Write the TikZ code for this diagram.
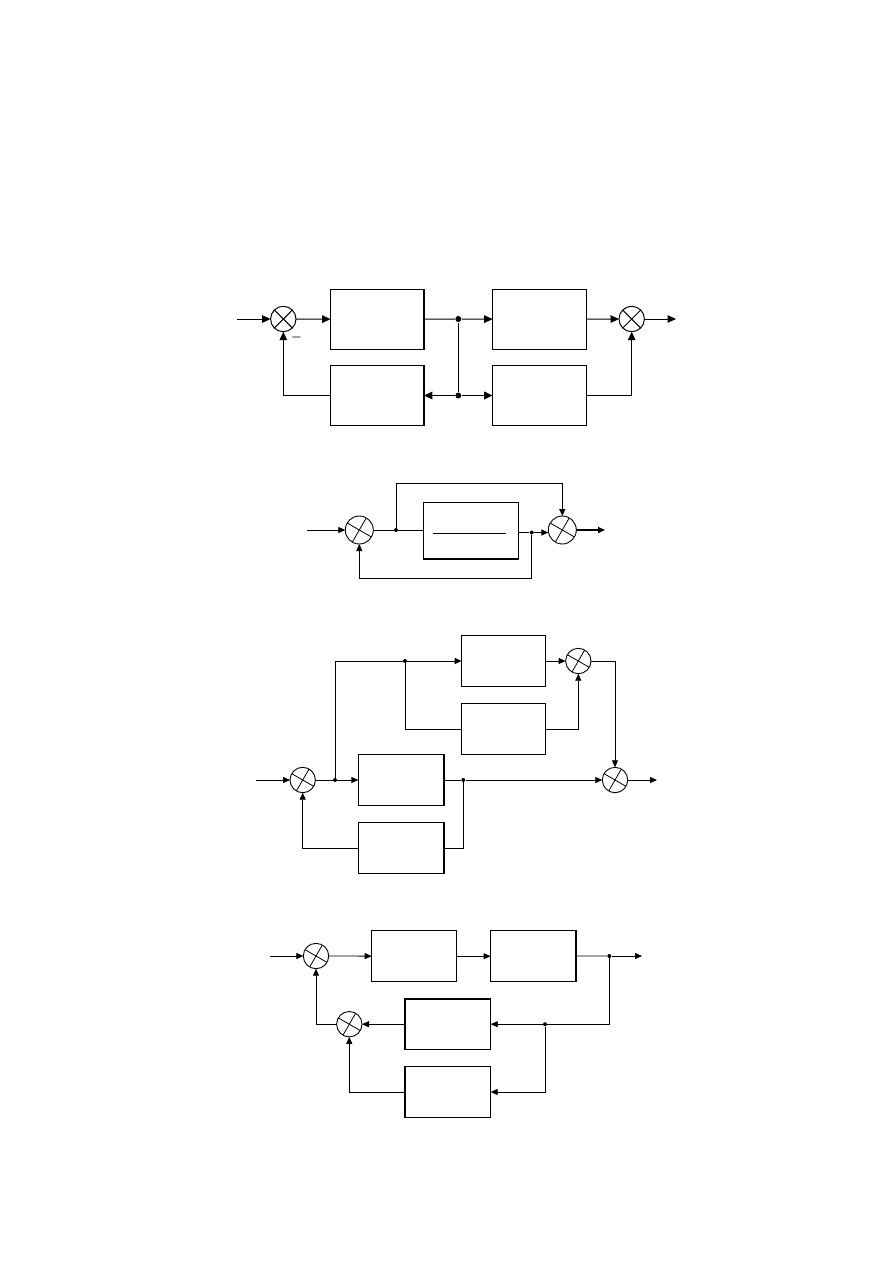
\documentclass[tikz,border=0pt]{standalone}
\usetikzlibrary{arrows.meta,calc}
\tikzset{
  thin line/.style={line width=0.8pt},
  arr/.style={-{Triangle[length=7pt,width=6pt]}},
  bigarr/.style={-{Triangle[length=8.5pt,width=7.5pt]}},
  blk/.style={draw, line width=1.4pt, inner sep=0pt, outer sep=0pt},
  sumA/.style={circle, draw, line width=1pt, minimum size=25.4pt, inner sep=0pt, outer sep=0pt,
    path picture={\draw[line width=1pt] (path picture bounding box.center) ++(45:20pt) -- ++(225:40pt);
                  \draw[line width=1pt] (path picture bounding box.center) ++(135:20pt) -- ++(315:40pt);}},
  sumB/.style={circle, draw, line width=0.9pt, minimum size=#1, inner sep=0pt, outer sep=0pt,
    path picture={\draw[line width=0.8pt] (path picture bounding box.center) ++(60:20pt) -- ++(240:40pt);
                  \draw[line width=0.8pt] (path picture bounding box.center) ++(150:20pt) -- ++(330:40pt);}},
  sumB/.default=25.4pt,
  dotA/.style={circle, fill, inner sep=0pt, minimum size=6pt},
  dotB/.style={circle, fill, inner sep=0pt, minimum size=4pt},
}
\begin{document}
\begin{tikzpicture}[x=1pt,y=-1pt, thin line]
\useasboundingbox (0,0) rectangle (893,1263);

% ---------------- Diagram 1 ----------------
\begin{scope}[line width=1pt]
\coordinate (in1) at (237,319);
\node[sumA] (s1) at (283.3,319) {};
\node[blk, minimum width=93.3pt, minimum height=60pt] (A) at (377.3,319.3) {};
\node[blk, minimum width=94pt, minimum height=60pt] (B) at (539.7,319.3) {};
\node[blk, minimum width=93.3pt, minimum height=60pt] (C) at (377.3,395.5) {};
\node[blk, minimum width=94pt, minimum height=60pt] (D) at (539.7,395.5) {};
\node[dotA] (j1) at (458.3,319) {};
\node[dotA] (j2) at (458.3,395.5) {};
\node[sumA] (s2) at (631.7,319) {};
\coordinate (out1) at (676,319);
\node[font=\large\boldmath, inner sep=0pt] (m1) at (296.5,337) {$-$};

\draw[bigarr] (in1) -- (s1);
\draw[bigarr] (s1) -- (A);
\draw (A) -- (j1);
\draw[bigarr] (j1) -- (B);
\draw[bigarr] (B) -- (s2);
\draw[bigarr] (s2) -- (out1);
\draw (j1) -- (j2);
\draw[line width=1.7pt, bigarr] (j2) -- (C);
\draw[line width=1.7pt, bigarr] (j2) -- (D);
\draw[line width=1.4pt, bigarr] (C) -| (s1);
\draw[line width=1.4pt, bigarr] (D) -| (s2);
\end{scope}

% ---------------- Diagram 2 ----------------
\coordinate (in2) at (307,530);
\node[sumB=28pt] (s3) at (359.3,530) {};
\node[dotB] (j3) at (396,530) {};
\node[blk, minimum width=95pt, minimum height=56.7pt] (P) at (470.8,530.7) {};
\coordinate (fl) at (433.3,533.3);
\coordinate (fr) at (506,533.3);
\node[dotB] (j4) at (531.7,532.5) {};
\node[sumB=28pt] (s4) at (562.3,530) {};
\coordinate (t1) at (562.3,483.3);
\coordinate (b1) at (531.7,578.3);
\coordinate (out2) at (605,530);

\draw[arr] (in2) -- (s3);
\draw (s3) -- (j3);
\draw (j3) -- (j3 -| P.west);
\draw (fl) -- (fr);
\draw[line width=1.4pt] (P.east |- j4) -- (j4);
\draw[line width=1.4pt, arr] (j4) -- (j4 -| s4.west);
\draw (j3) |- (t1);
\draw[line width=1.4pt, arr] (t1) -- (s4);
\draw[line width=1.4pt, arr] (s4) -- (out2);
\draw (j4) -- (b1);
\draw[arr] (b1) -| (s3);

% ---------------- Diagram 3 ----------------
\coordinate (in3) at (256,780);
\node[sumB] (s5) at (302.7,780) {};
\node[dotB] (j5) at (335,780) {};
\node[blk, minimum width=85.7pt, minimum height=51.4pt] (E) at (401.2,780) {};
\node[blk, minimum width=85.7pt, minimum height=51pt] (F) at (401.2,848) {};
\node[dotB] (j6) at (463.3,780) {};
\node[sumB] (s6) at (615,780) {};
\coordinate (out3) at (657,780);
\node[dotB] (j7) at (405,661) {};
\node[blk, line width=1.0pt, minimum width=84.3pt, minimum height=51.7pt] (G) at (503.8,661) {};
\node[blk, line width=1.0pt, minimum width=84.3pt, minimum height=51.7pt] (H) at (503.8,729) {};
\node[sumB] (s7) at (578.3,661) {};
\coordinate (c3) at (463.3,848);

\draw[arr] (in3) -- (s5);
\draw (s5) -- (j5);
\draw[arr] (j5) -- (E);
\draw (E) -- (j6);
\draw[arr] (j6) -- (s6);
\draw[arr] (s6) -- (out3);
\draw (j6) -- (c3) -- (F);
\draw[arr] (F) -| (s5);
\draw (j5) |- (j7);
\draw[arr] (j7) -- (G);
\draw (j7) |- (H);
\draw[arr] (G) -- (s7);
\draw[arr] (H) -| (s7);
\draw[arr] (s7) -| (s6);

% ---------------- Diagram 4 ----------------
\coordinate (in4) at (270,956);
\node[sumB] (s8) at (316,956) {};
\node[blk, minimum width=85pt, minimum height=51pt] (I) at (414.2,956.2) {};
\node[blk, minimum width=85.3pt, minimum height=51pt] (J) at (533.3,956.2) {};
\node[dotB] (j8) at (609.3,956) {};
\coordinate (out4) at (642,956);
\node[blk, minimum width=85.7pt, minimum height=50.3pt] (K) at (447.8,1024.2) {};
\node[blk, minimum width=85.7pt, minimum height=50.7pt] (L) at (447.8,1092) {};
\node[dotB] (j9) at (545,1024.2) {};
\node[sumB] (s9) at (349.3,1024.2) {};

\draw[arr] (in4) -- (s8);
\draw[arr] (s8) -- (I);
\draw[arr] (I) -- (J);
\draw (J) -- (j8);
\draw[arr] (j8) -- (out4);
\draw (j8) |- (j9);
\draw[arr] (j9) -- (K);
\draw[arr] (K) -- (s9);
\draw[arr] (s9) -| (s8);
\draw[arr] (j9) |- (L);
\draw[arr] (L) -| (s9);
\end{tikzpicture}
\end{document}
